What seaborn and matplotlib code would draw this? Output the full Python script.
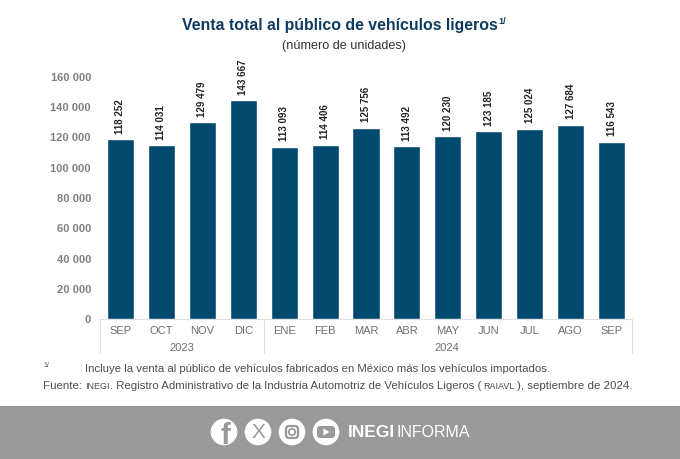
import matplotlib
matplotlib.use("Agg")
import matplotlib.pyplot as plt
import pandas as pd
import seaborn as sns
from matplotlib.patches import Circle, FancyBboxPatch, Polygon, Rectangle

months = ["SEP", "OCT", "NOV", "DIC", "ENE", "FEB", "MAR", "ABR", "MAY", "JUN", "JUL", "AGO", "SEP"]
ventas = [118252, 114031, 129479, 143667, 113093, 114406, 125756, 113492, 120230, 123185, 125024, 127684, 116543]
y_ticks = [0, 20000, 40000, 60000, 80000, 100000, 120000, 140000, 160000]
years = ["2023", "2024"]

sns.set_theme(style="white")
plt.rcParams["font.family"] = ["Liberation Sans", "DejaVu Sans"]

W, H = 680, 460
fig = plt.figure(figsize=(W / 100, H / 100), dpi=100)

# overlay in pixel coords for text, footer and logos
bg = fig.add_axes([0, 0, 1, 1])
bg.set_xlim(0, W)
bg.set_ylim(H, 0)
bg.axis("off")

ax = fig.add_axes([100 / W, (H - 319.5) / H, 532 / W, 243 / H])
ax.patch.set_alpha(0)
df = pd.DataFrame({"pos": range(len(months)), "ventas": ventas})
sns.barplot(data=df, x="pos", y="ventas", color="#024a6d", saturation=1, width=0.66, ax=ax)
ax.set_xlim(-0.5, 12.5)
ax.set_ylim(0, 160000)
ax.set_xlabel("")
ax.set_ylabel("")
ax.set_xticks([])
ax.set_yticks(y_ticks)
ax.set_yticklabels([f"{v:,}".replace(",", " ") for v in y_ticks], fontsize=8, color="#808080", fontweight="bold")
ax.tick_params(axis="y", length=0, pad=6.5)
sns.despine(ax=ax, left=True, bottom=True)

# value labels, rotated
for i, v in enumerate(ventas):
    ax.annotate(f"{v:,}".replace(",", " "), (i, v), xytext=(0, 4.5), textcoords="offset points",
                rotation=90, ha="center", va="bottom", fontsize=7, fontweight="bold", color="#222222")

# category axis with year groups
bg.plot([100, 632], [319.5, 319.5], color="#e0e0e0", lw=0.8)
for x in [100, 263.5, 632]:
    bg.plot([x, x], [319.5, 354], color="#e0e0e0", lw=0.8)
for i, m in enumerate(months):
    bg.text(100 + 40.92 * (i + 0.5), 331, m, ha="center", va="center", fontsize=8, color="#6e6e6e")
bg.text(181.5, 348, years[0], ha="center", va="center", fontsize=8, color="#6e6e6e")
bg.text(447, 348, years[1], ha="center", va="center", fontsize=8, color="#6e6e6e")

# titles
navy = "#0f3a5f"
bg.text(340, 25.5, "Venta total al público de vehículos ligeros", ha="center", va="center",
        fontsize=11.4, fontweight="bold", color=navy)
bg.text(498, 21, "1/", ha="left", va="center", fontsize=6.5, fontweight="bold", color=navy)
bg.text(343.5, 46.5, "(número de unidades)", ha="center", va="center", fontsize=9.1, color="#333333")

# notes
note = "#4d4d4d"
bg.text(43, 366, "1/", ha="left", va="center", fontsize=5, color=note)
bg.text(85, 369, "Incluye la venta al público de vehículos fabricados en México más los vehículos importados.",
        ha="left", va="center", fontsize=8.2, color=note)
bg.text(43, 386.5, "Fuente:", ha="left", va="center", fontsize=8.25, color=note)
bg.text(85.5, 386.5, "INEGI", ha="left", va="center", fontsize=6.5, color=note)
bg.text(110.5, 386.5, ". Registro Administrativo de la Industria Automotriz de Vehículos Ligeros (",
        ha="left", va="center", fontsize=8.2, color=note)
bg.text(483, 386.5, "RAIAVL", ha="left", va="center", fontsize=6.5, color=note)
bg.text(517, 386.5, "), septiembre de 2024.", ha="left", va="center", fontsize=8.25, color=note)

# footer band
grey = "#999999"
bg.add_patch(Rectangle((0, 407), W, 53, color=grey, lw=0))
for cx in [224, 258, 292, 326]:
    bg.add_patch(Circle((cx, 433), 13.3, color="white", lw=0))
bg.text(225, 436, "f", ha="center", va="center", fontsize=21, fontweight="bold", color=grey)
bg.text(258, 433, "X", ha="center", va="center", fontsize=15, color=grey)
bg.add_patch(FancyBboxPatch((286, 427), 12, 12, boxstyle="round,pad=0,rounding_size=3", fc="none", ec=grey, lw=1.6))
bg.add_patch(Circle((292, 433), 3.2, fc="none", ec=grey, lw=1.3))
bg.add_patch(FancyBboxPatch((317, 427), 18, 12, boxstyle="round,pad=0,rounding_size=3", fc=grey, ec="none"))
bg.add_patch(Polygon([(323.5, 429.5), (323.5, 436.5), (329.5, 433)], color="white", lw=0))
bg.text(348, 433, "INEGI", ha="left", va="center", fontsize=12.5, fontweight="bold", color="white")
bg.text(396, 433, "INFORMA", ha="left", va="center", fontsize=11.5, color="white")

fig.savefig("out.png", dpi=100, facecolor="white")
